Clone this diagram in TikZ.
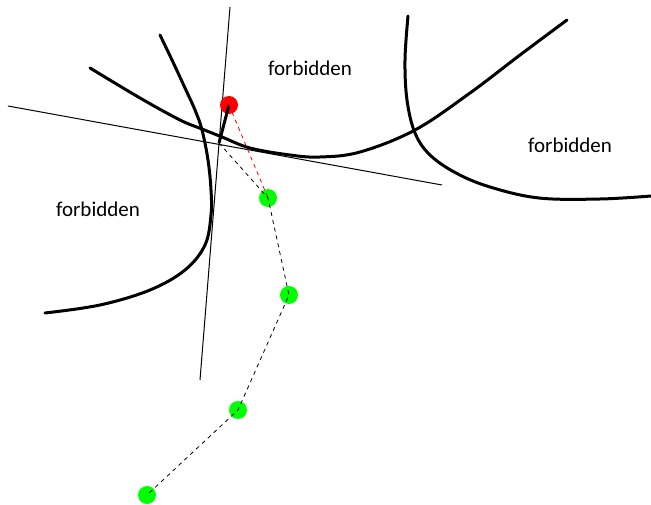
\documentclass[tikz,border=0pt]{standalone}
\usepackage{fontspec}
\setmainfont{Carlito}
\begin{document}
\begin{tikzpicture}[x=1pt,y=-1pt,
  bound/.style={line width=3pt,line cap=round},
  tangent/.style={line width=1pt},
  link/.style={dashed,line width=0.8pt,dash pattern=on 4pt off 4pt},
  pt/.style={circle,inner sep=0pt,minimum size=18pt},
  label/.style={anchor=base,font=\fontsize{21}{24}\selectfont}]
\useasboundingbox (0,0) rectangle (651,505);

% boundary curves
\draw[bound] plot[smooth,tension=0.6] coordinates {(90,68) (140,98) (180,120) (202,129) (222,137) (250,148) (290,155) (320,157) (360,152) (415,130) (470,93) (520,55) (567,20)};
\draw[bound] plot[smooth,tension=0.6] coordinates {(160,35) (172,60) (185,88) (195,110) (202,130) (208,160) (211,190) (211,215) (205,245) (185,270) (150,290) (100,305) (45,313)};
\draw[bound] plot[smooth,tension=0.6] coordinates {(408,16) (405,60) (407,100) (415,133) (430,155) (456,173) (490,187) (539,198) (600,199) (651,196)};

% tangent lines
\coordinate (t1a) at (230,7);
\coordinate (t1b) at (200,380);
\coordinate (t2a) at (8,106);
\coordinate (t2b) at (442,185);
\draw[tangent] (t1a) -- (t1b);
\draw[tangent] (t2a) -- (t2b);

% points
\node[pt,fill=red] (r) at (229,105) {};
\node[pt,fill=green] (g1) at (268,198) {};
\node[pt,fill=green] (g2) at (289,295) {};
\node[pt,fill=green] (g3) at (238,410) {};
\node[pt,fill=green] (g4) at (147,495) {};
\coordinate (x) at (219,143);

\draw[line width=3pt] (r.center) -- (x);
\draw[link,red] (r.center) -- (g1.center);
\draw[link] (x) -- (g1.center) -- (g2.center) -- (g3.center) -- (g4.center);

% labels
\node[label] (f1) at (310,76) {forbidden};
\node[label] (f2) at (570,153) {forbidden};
\node[label] (f3) at (98,217) {forbidden};
\end{tikzpicture}
\end{document}
